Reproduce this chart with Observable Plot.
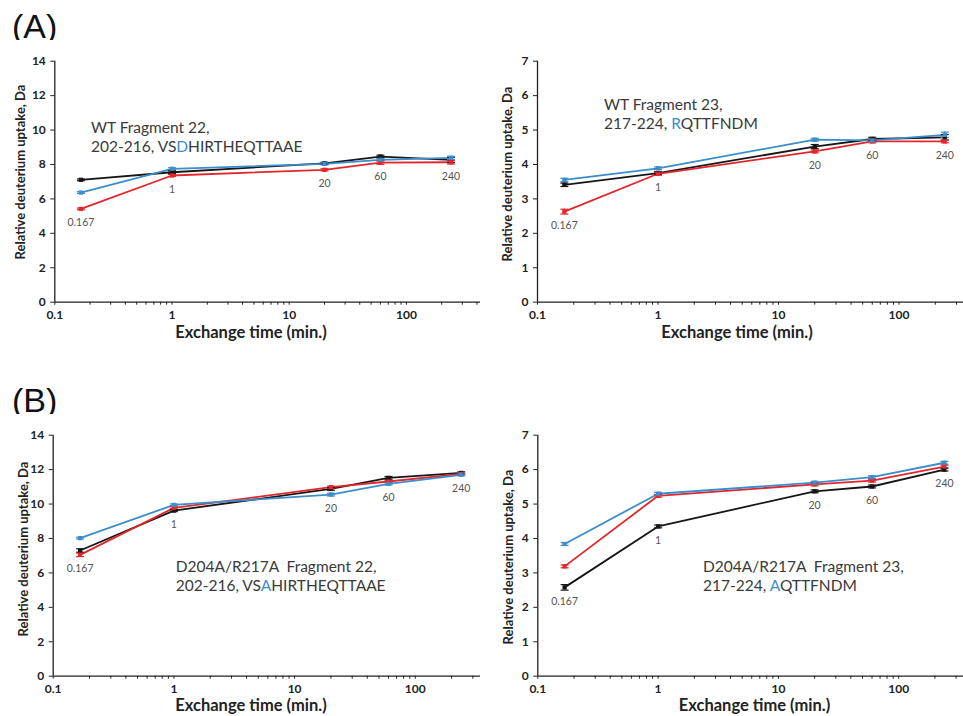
<!DOCTYPE html>
<html><head><meta charset="utf-8">
<script src="https://cdn.jsdelivr.net/npm/d3@7"></script>
<script src="https://cdn.jsdelivr.net/npm/@observablehq/plot@0.6"></script>
<style>
body{margin:0;background:#fff;font-family:Lato,"Open Sans",sans-serif}
#root{position:relative;width:963px;height:716px;overflow:hidden;background:#fff}
.panel{position:absolute;overflow:hidden}
.panel svg{overflow:hidden}
.tag{position:absolute;font-family:"Liberation Sans",Arial,sans-serif;font-size:34px;line-height:34px;color:#111}
.note{position:absolute;font-size:15.5px;line-height:19px;color:#3a3a3a;white-space:pre}
.xt{position:absolute;width:240px;text-align:center;font-weight:bold;font-size:16.5px;line-height:16px;color:#222}
.yt{position:absolute;width:260px;text-align:center;font-weight:bold;font-size:13px;line-height:14px;color:#222;transform:rotate(-90deg)}
</style></head>
<body><div id="root"></div>
<script>
// ---- data ----
const times = [0.167, 1, 20, 60, 240];
const timeLabels = ["0.167", "1", "20", "60", "240"];
const seriesKeys = ["series 1", "series 2", "series 3"];
const seriesColors = ["#161616", "#e3262c", "#3b8dcb"];

// WT Fragment 22
const wt22Black = [7.11, 7.55, 8.07, 8.46, 8.27];
const wt22Blue  = [6.37, 7.75, 8.04, 8.27, 8.38];
const wt22Red   = [5.42, 7.36, 7.69, 8.11, 8.13];
const wt22BlackErr = [0.05, 0.08, 0.06, 0.08, 0.15];
const wt22BlueErr  = [0.05, 0.06, 0.06, 0.06, 0.1];
const wt22RedErr   = [0.05, 0.06, 0.06, 0.1, 0.1];
// WT Fragment 23
const wt23Black = [3.41, 3.75, 4.52, 4.74, 4.79];
const wt23Blue  = [3.55, 3.89, 4.72, 4.70, 4.86];
const wt23Red   = [2.63, 3.73, 4.38, 4.67, 4.67];
const wt23BlackErr = [0.05, 0.04, 0.06, 0.05, 0.08];
const wt23BlueErr  = [0.05, 0.04, 0.04, 0.04, 0.08];
const wt23RedErr   = [0.07, 0.04, 0.04, 0.04, 0.04];
// D204A/R217A Fragment 22
const mu22Black = [7.30, 9.62, 10.88, 11.52, 11.81];
const mu22Blue  = [8.02, 9.95, 10.55, 11.17, 11.70];
const mu22Red   = [7.05, 9.78, 10.98, 11.31, 11.75];
const mu22BlackErr = [0.1, 0.06, 0.08, 0.08, 0.06];
const mu22BlueErr  = [0.05, 0.06, 0.08, 0.06, 0.06];
const mu22RedErr   = [0.1, 0.06, 0.06, 0.06, 0.06];
// D204A/R217A Fragment 23
const mu23Black = [2.58, 4.35, 5.37, 5.51, 6.00];
const mu23Blue  = [3.84, 5.30, 5.62, 5.78, 6.20];
const mu23Red   = [3.19, 5.24, 5.57, 5.68, 6.09];
const mu23BlackErr = [0.08, 0.04, 0.04, 0.04, 0.04];
const mu23BlueErr  = [0.04, 0.04, 0.04, 0.04, 0.04];
const mu23RedErr   = [0.04, 0.04, 0.04, 0.04, 0.04];

const yTitle = "Relative deuterium uptake, Da";
const xTitle = "Exchange time (min.)";
const xTickValues = [0.1, 1, 10, 100];

// ---- layout ----
const root = document.getElementById("root");
const panels = [
  {left: 0, top: 40, w: 480, h: 300, ml: 54.3, dec: 117.2, ymax: 14, step: 2,
   series: [[wt22Black, wt22BlackErr], [wt22Red, wt22RedErr], [wt22Blue, wt22BlueErr]],
   note: {x: 91, y: 118, l1: "WT Fragment 22,", pre: "202-216, VS", hi: "D", post: "HIRTHEQTTAAE"},
   xt: {cx: 251, cy: 332}, yt: {cx: 20, cy: 172}},
  {left: 480, top: 40, w: 483, h: 300, ml: 57, dec: 120.5, ymax: 7, step: 1,
   series: [[wt23Black, wt23BlackErr], [wt23Red, wt23RedErr], [wt23Blue, wt23BlueErr]],
   note: {x: 604, y: 95, l1: "WT Fragment 23,", pre: "217-224, ", hi: "R", post: "QTTFNDM"},
   xt: {cx: 737, cy: 332}, yt: {cx: 507, cy: 174}},
  {left: 0, top: 414, w: 480, h: 302, ml: 52.7, dec: 120.7, ymax: 14, step: 2,
   series: [[mu22Black, mu22BlackErr], [mu22Red, mu22RedErr], [mu22Blue, mu22BlueErr]],
   note: {x: 175.7, y: 557, l1: "D204A/R217A  Fragment 22,", pre: "202-216, VS", hi: "A", post: "HIRTHEQTTAAE"},
   xt: {cx: 251, cy: 705}, yt: {cx: 23, cy: 549}},
  {left: 480, top: 414, w: 483, h: 302, ml: 57.3, dec: 120.3, ymax: 7, step: 1,
   series: [[mu23Black, mu23BlackErr], [mu23Red, mu23RedErr], [mu23Blue, mu23BlueErr]],
   note: {x: 703, y: 557, l1: "D204A/R217A  Fragment 23,", pre: "217-224, ", hi: "A", post: "QTTFNDM"},
   xt: {cx: 754.5, cy: 705}, yt: {cx: 508, cy: 557}}
];

const capSymbol = {draw(ctx, size) { const w = Math.sqrt(size) * 0.9; ctx.moveTo(-w, 0); ctx.lineTo(w, 0); }};
const minorTicks = [];
for (let e = -1; e < 3; e++) for (let k = 1; k < 10; k++) minorTicks.push(+(k * Math.pow(10, e)).toPrecision(3));
minorTicks.push(1000);

function tag(text, x, y) {
  const d = document.createElement("div");
  d.className = "tag"; d.textContent = text;
  d.style.left = x + "px"; d.style.top = y + "px";
  root.appendChild(d);
}
tag("(A)", 12, 9);
tag("(B)", 12, 383);

panels.forEach(p => {
  const rows = [];
  p.series.forEach(([vals, errs], si) => vals.forEach((v, i) => rows.push({t: times[i], v, e: errs[i], key: seriesKeys[si]})));
  const mins = times.map((t, i) => ({t, label: timeLabels[i], v: d3.min(p.series, s => s[0][i])}));
  const y0 = 20.7 + 241;
  const chart = Plot.plot({
    width: p.w, height: p.h,
    marginLeft: p.ml, marginRight: 0, marginTop: 20.7, marginBottom: p.h - y0,
    style: {fontFamily: "Lato, 'Open Sans', sans-serif", background: "white", overflow: "hidden"},
    x: {type: "log", domain: [0.1, 1000], range: [p.ml, p.ml + 4 * p.dec]},
    y: {domain: [0, p.ymax], range: [y0, 20.7]},
    color: {type: "ordinal", domain: seriesKeys, range: seriesColors},
    marks: [
      Plot.axisY({ticks: d3.range(0, p.ymax + 0.01, p.step), tickSize: 4, tickPadding: 5,
        tickFormat: d => String(d), fontWeight: "bold", fontSize: 12, label: null, color: "#222"}),
      Plot.axisX({ticks: minorTicks, tickSize: 3, tickPadding: 5,
        tickFormat: d => xTickValues.includes(d) ? String(d) : "", fontWeight: "bold", fontSize: 12, label: null, color: "#222"}),
      Plot.ruleY([0], {stroke: "#222", strokeWidth: 1.3}),
      Plot.ruleX([0.1], {stroke: "#222", strokeWidth: 1.3}),
      Plot.line(rows, {x: "t", y: "v", z: "key", stroke: "key", strokeWidth: 1.8}),
      Plot.ruleX(rows, {x: "t", y1: d => d.v - d.e, y2: d => d.v + d.e, stroke: "key", strokeWidth: 1.2}),
      Plot.dot(rows, {x: "t", y: d => d.v - d.e, symbol: capSymbol, stroke: "key", r: 2.5, strokeWidth: 1.2}),
      Plot.dot(rows, {x: "t", y: d => d.v + d.e, symbol: capSymbol, stroke: "key", r: 2.5, strokeWidth: 1.2}),
      Plot.dot(rows, {x: "t", y: "v", symbol: "square", fill: "key", r: 2.4}),
      Plot.text(mins, {x: "t", y: "v", text: "label", dy: 14, fill: "#555", fontSize: 10.5})
    ]
  });
  const div = document.createElement("div");
  div.className = "panel";
  div.style.left = p.left + "px"; div.style.top = p.top + "px";
  div.style.width = p.w + "px"; div.style.height = p.h + "px";
  div.appendChild(chart);
  root.appendChild(div);

  const n = document.createElement("div");
  n.className = "note";
  n.style.left = p.note.x + "px"; n.style.top = p.note.y + "px";
  n.innerHTML = `${p.note.l1}<br>${p.note.pre}<span style="color:#3b8dcb">${p.note.hi}</span>${p.note.post}`;
  root.appendChild(n);

  const xt = document.createElement("div");
  xt.className = "xt"; xt.textContent = xTitle;
  xt.style.left = (p.xt.cx - 120) + "px"; xt.style.top = (p.xt.cy - 8) + "px";
  root.appendChild(xt);

  const yt = document.createElement("div");
  yt.className = "yt"; yt.textContent = yTitle;
  yt.style.left = (p.yt.cx - 130) + "px"; yt.style.top = (p.yt.cy - 7) + "px";
  root.appendChild(yt);
});
</script></body></html>
